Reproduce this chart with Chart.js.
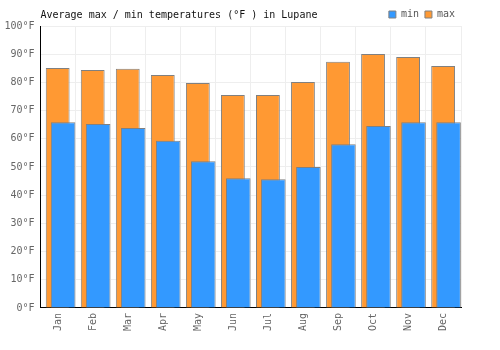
<!DOCTYPE html>
<html>
<head>
<meta charset="utf-8">
<script src="https://cdn.jsdelivr.net/npm/chart.js@4.4.1/dist/chart.umd.min.js"></script>
<style>
    body { margin: 0; background: #fff; }
</style>
</head>
<body>
<canvas id="grafico" width="500" height="350"></canvas>
<script>
// datos
const meses = ['Jan', 'Feb', 'Mar', 'Apr', 'May', 'Jun', 'Jul', 'Aug', 'Sep', 'Oct', 'Nov', 'Dec'];
const maximas = [85.1, 84.4, 84.8, 82.6, 79.8, 75.5, 75.5, 80.1, 87.3, 90.1, 89.0, 85.8];
const minimas = [65.9, 65.2, 63.8, 59.3, 52.0, 46.0, 45.6, 50.0, 58.1, 64.5, 65.9, 65.9];
const titulo = 'Average max / min temperatures (°F ) in Lupane';

const fuente = { family: 'DejaVu Sans Mono', size: 10 };

// las barras de minimas van a la derecha pero encima de las maximas
const minimasEncima = {
    id: 'minimasEncima',
    beforeDatasetDraw(chart, args) {
        if (args.index === 0) return false;
    },
    afterDatasetsDraw(chart) {
        chart.getDatasetMeta(0).controller.draw();
    }
};

// titulo en la misma fila que la leyenda
const tituloIzquierda = {
    id: 'tituloIzquierda',
    afterDraw(chart) {
        const ctx = chart.ctx;
        const caja = chart.legend.legendHitBoxes[0];
        ctx.save();
        ctx.font = '10px "DejaVu Sans Mono"';
        ctx.fillStyle = '#111';
        ctx.textBaseline = 'middle';
        ctx.textAlign = 'left';
        ctx.fillText(titulo, chart.chartArea.left, caja.top + caja.height / 2 + 0.5);
        ctx.restore();
    }
};

const grafico = new Chart(document.getElementById('grafico').getContext('2d'), {
    type: 'bar',
    data: {
        labels: meses,
        datasets: [{
            label: 'min',
            data: minimas,
            backgroundColor: '#3399ff',
            borderColor: '#808080',
            borderWidth: 1,
            order: 2,
            categoryPercentage: 0.58,
            barPercentage: 2.42
        }, {
            label: 'max',
            data: maximas,
            backgroundColor: '#ff9933',
            borderColor: '#808080',
            borderWidth: 1,
            order: 1,
            categoryPercentage: 0.04,
            barPercentage: 34
        }]
    },
    options: {
        responsive: false,
        animation: false,
        layout: { padding: { left: 4, right: 39, top: 3.5, bottom: 14 } },
        plugins: {
            title: { display: false },
            tooltip: { enabled: false },
            legend: {
                position: 'top',
                align: 'end',
                maxHeight: 22.5,
                labels: {
                    boxWidth: 7,
                    boxHeight: 7,
                    padding: 6,
                    color: '#555',
                    font: fuente,
                    sort: (a, b) => a.datasetIndex - b.datasetIndex
                }
            }
        },
        scales: {
            x: {
                grid: { color: '#eeeeee', drawTicks: false },
                border: { color: '#000' },
                ticks: {
                    color: '#666',
                    font: fuente,
                    minRotation: 90,
                    maxRotation: 90,
                    padding: 5
                }
            },
            y: {
                min: 0,
                max: 100,
                afterFit: (escala) => { escala.width = 36.5; },
                grid: { color: '#eeeeee', drawTicks: false },
                border: { color: '#000' },
                ticks: {
                    stepSize: 10,
                    color: '#666',
                    font: fuente,
                    padding: 6,
                    callback: (v) => v + '°F'
                }
            }
        }
    },
    plugins: [minimasEncima, tituloIzquierda]
});
</script>
</body>
</html>
